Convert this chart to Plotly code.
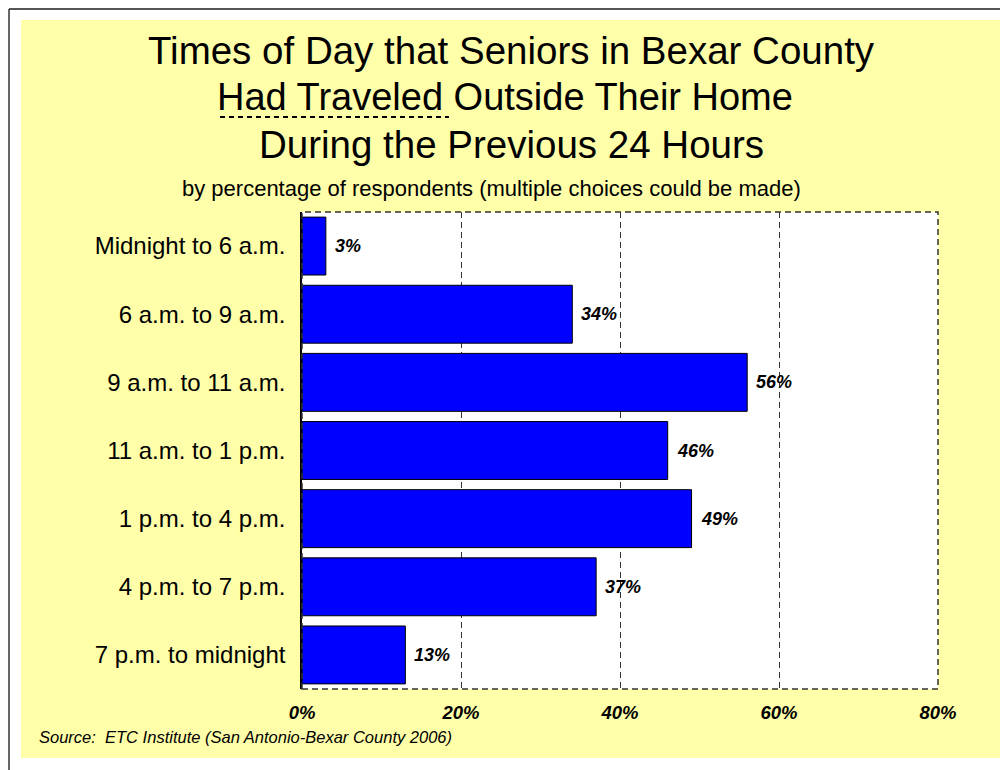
import plotly.graph_objects as go

categories = ["Midnight to 6 a.m.", "6 a.m. to 9 a.m.", "9 a.m. to 11 a.m.", "11 a.m. to 1 p.m.",
              "1 p.m. to 4 p.m.", "4 p.m. to 7 p.m.", "7 p.m. to midnight"]
values = [3, 34, 56, 46, 49, 37, 13]
tick_vals = [0, 20, 40, 60, 80]
title_lines = ["Times of Day that Seniors in Bexar County",
               "Had Traveled Outside Their Home",
               "During the Previous 24 Hours"]
subtitle = "by percentage of respondents (multiple choices could be made)"
source = "Source:  ETC Institute (San Antonio-Bexar County 2006)"

OFF = 8  # page body margin
W, H = 1008 - OFF, 770 - OFF
L, R, T, B = 302 - OFF, 938 - OFF, 212 - OFF, 689 - OFF


def px(xp):
    """reference page pixel x -> paper coordinate"""
    return (xp - OFF - L) / (R - L)


def py(yp):
    """reference page pixel y -> paper coordinate"""
    return (B - (yp - OFF)) / (B - T)


FONT = "Liberation Sans, Arial, sans-serif"

fig = go.Figure()
fig.add_trace(go.Bar(
    x=values, y=categories, orientation="h",
    marker=dict(color="#0000FF", line=dict(color="#000000", width=1)),
    hoverinfo="skip",
))

annotations = []
for c, v in zip(categories, values):
    annotations.append(dict(
        x=v, y=c, xref="x", yref="y", text=f"{v}%", showarrow=False,
        xanchor="left", yanchor="middle", xshift=7,
        font=dict(family=FONT, size=18, color="#000", weight="bold", style="italic"),
    ))

title_pos = [(511, 50, 38.5), (505, 97, 38), (511, 144, 38.5)]
for line, (tx, ty, fs) in zip(title_lines, title_pos):
    annotations.append(dict(
        x=px(tx), y=py(ty), xref="paper", yref="paper",
        text=line, showarrow=False, xanchor="center", yanchor="middle",
        font=dict(family=FONT, size=fs, color="#000"),
    ))
annotations.append(dict(
    x=px(491), y=py(188), xref="paper", yref="paper",
    text=subtitle, showarrow=False, xanchor="center", yanchor="middle",
    font=dict(family=FONT, size=22, color="#000"),
))
annotations.append(dict(
    x=px(37), y=py(737), xref="paper", yref="paper",
    text=source, showarrow=False, xanchor="left", yanchor="middle",
    font=dict(family=FONT, size=16.5, color="#000", style="italic"),
))

shapes = [
    # yellow panel
    dict(type="rect", xref="paper", yref="paper", x0=px(21), x1=px(1005), y0=py(758), y1=py(20),
         fillcolor="#FFFFAA", line=dict(width=0), layer="below"),
    # white plot area
    dict(type="rect", xref="paper", yref="paper", x0=0, x1=1, y0=0, y1=1,
         fillcolor="#FFFFFF", line=dict(width=0), layer="below"),
    # dashed plot border
    dict(type="rect", xref="paper", yref="paper", x0=0, x1=1, y0=0, y1=1,
         fillcolor="rgba(0,0,0,0)", line=dict(color="#333333", width=1.5, dash="6px,4px"), layer="above"),
    # outer gray frame lines (at the figure's top/left edge)
    dict(type="line", xref="paper", yref="paper", x0=px(OFF + 1), x1=px(1008), y0=py(OFF + 1), y1=py(OFF + 1),
         line=dict(color="#555555", width=2)),
    dict(type="line", xref="paper", yref="paper", x0=px(OFF + 1), x1=px(OFF + 1), y0=py(OFF + 1), y1=py(770),
         line=dict(color="#333333", width=1.5)),
    # dashed underline under "Had Traveled"
    dict(type="line", xref="paper", yref="paper", x0=px(220), x1=px(449), y0=py(117), y1=py(117),
         line=dict(color="#000000", width=2, dash="5px,4px")),
]

fig.update_layout(
    width=W, height=H,
    margin=dict(l=L, r=W - R, t=T, b=H - B, pad=0),
    paper_bgcolor="#FFFFFF", plot_bgcolor="rgba(0,0,0,0)",
    showlegend=False, bargap=0.15,
    annotations=annotations, shapes=shapes,
    font=dict(family=FONT, color="#000"),
)
fig.update_xaxes(
    range=[0, 80], tickvals=tick_vals, ticktext=[f"{t}%" for t in tick_vals],
    showgrid=True, gridcolor="#333333", gridwidth=1, griddash="6px,4px",
    zeroline=False, showline=False, ticks="", ticklabelstandoff=10,
    tickfont=dict(family=FONT, size=18.5, color="#000", weight="bold", style="italic"),
    fixedrange=True,
)
fig.update_yaxes(
    autorange="reversed", showgrid=False, zeroline=False,
    showline=True, linecolor="#000000", linewidth=1.5, ticks="", ticklabelstandoff=10,
    tickfont=dict(family=FONT, size=24, color="#000"),
    fixedrange=True,
)

fig.write_html("out.html")
